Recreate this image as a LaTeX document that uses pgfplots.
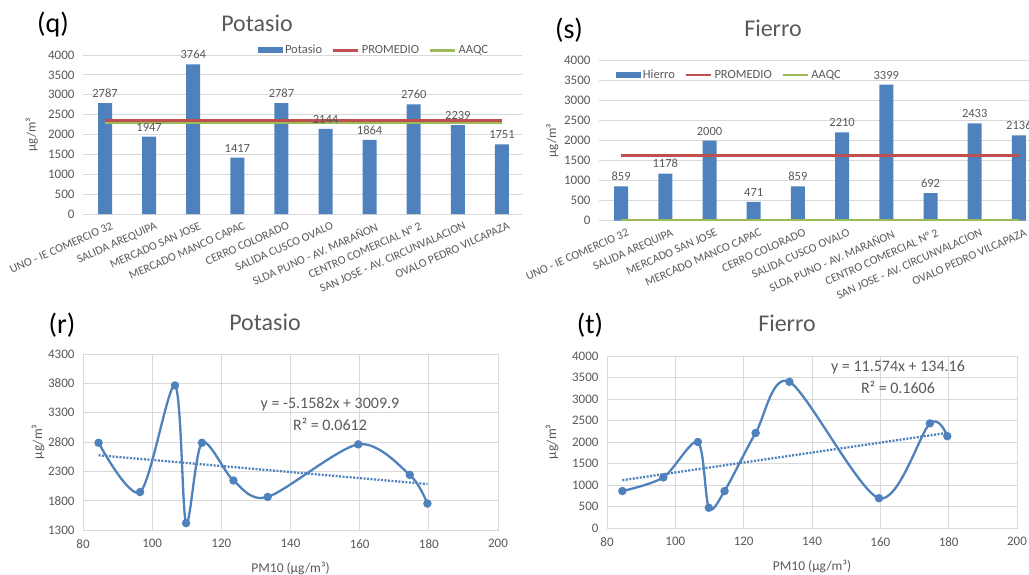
\documentclass[border=0pt]{standalone}
\usepackage{fontspec}
\setmainfont{Carlito}
\usepackage{pgfplots}
\pgfplotsset{compat=1.18}
\definecolor{cblue}{HTML}{4F81BD}
\definecolor{cred}{HTML}{C0504D}
\definecolor{cgreen}{HTML}{9BBB59}
\definecolor{ctext}{HTML}{595959}
\definecolor{cgrid}{HTML}{D9D9D9}
\newcommand{\fs}[1]{\fontsize{#1}{#1}\selectfont}

\pgfplotsset{
  common/.style={
    scale only axis,
    /pgf/number format/assume math mode=true,
    /pgf/number format/1000 sep={},
    scaled ticks=false,
    tick style={draw=none},
    ticklabel style={text=ctext},
    yticklabel style={font=\fs{13}, xshift=-5pt},
  },
  barpanel/.style={
    common,
    xmin=-0.5, xmax=9.5, ymin=0, ymax=4000,
    ytick={0,500,...,4000}, xtick={0,...,9},
    xticklabels={UNO - IE COMERCIO 32, SALIDA AREQUIPA, MERCADO SAN JOSE, MERCADO MANCO CAPAC, CERRO COLORADO, SALIDA CUSCO OVALO, SLDA PUNO - AV. MARAÑON, CENTRO COMERCIAL N° 2, SAN JOSE - AV. CIRCUNVALACION, OVALO PEDRO VILCAPAZA},
    xticklabel style={font=\fs{11.8}, rotate=24, anchor=north east, inner sep=1pt, yshift=-8pt, xshift=3pt},
    axis line style={draw=none},
    ymajorgrids, grid style={cgrid, line width=0.8pt},
    ylabel={µg/m³}, ylabel style={font=\fs{13}, text=ctext, anchor=center},
    legend style={draw=none, fill=none, font=\fs{12.5}, text=ctext, legend columns=3,
      /tikz/every even column/.append style={column sep=8pt}},
    legend image code/.code={\draw[#1] (0pt,0pt) -- (25pt,0pt);},
  },
  barplot/.style={ybar, bar width=14pt, fill=cblue, draw=none,
    nodes near coords, nodes near coords style={font=\fs{12.5}, text=ctext, yshift=2pt},
    legend image code/.code={\fill[cblue] (0pt,-3pt) rectangle (25pt,3pt);}},
  avgline/.style={line width=2.6pt},
  scatpanel/.style={
    common,
    xmin=80, xmax=200, xtick={80,100,...,200},
    xticklabel style={font=\fs{13}, yshift=-6pt},
    grid=major, grid style={cgrid, line width=0.8pt},
    axis line style={cgrid, line width=0.8pt},
    xlabel={PM10 (µg/m³)}, ylabel={µg/m³},
    label style={font=\fs{13.5}, text=ctext},
  },
  curve/.style={cblue, line width=2.3pt, smooth, tension=0.5, mark=*, mark size=3pt},
  trend/.style={cblue, line width=2.3pt, dash pattern=on 2pt off 1.5pt},
}

\begin{document}
\begin{tikzpicture}
\path[use as bounding box] (0pt,0pt) rectangle (1029pt,-574pt);

% (q) Potasio bars
\begin{scope}
\clip (0pt,0pt) rectangle (522pt,-299pt);
\begin{axis}[barpanel, at={(83pt,-214pt)}, anchor=south west, width=441pt, height=159pt,
  ylabel style={at={(axis description cs:-0.116,0.5)}},
  legend style={at={(0.66,1.03)}, anchor=center}]
\addplot[barplot] coordinates {(0,2787) (1,1947) (2,3764) (3,1417) (4,2787) (5,2144) (6,1864) (7,2760) (8,2239) (9,1751)};
\addlegendentry{Potasio}
\addplot[cred, avgline] coordinates {(0,2346) (1,2346) (2,2346) (3,2346) (4,2346) (5,2346) (6,2346) (7,2346) (8,2346) (9,2346)};
\addlegendentry{PROMEDIO}
\addplot[cgreen, avgline] coordinates {(0,2290) (1,2290) (2,2290) (3,2290) (4,2290) (5,2290) (6,2290) (7,2290) (8,2290) (9,2290)};
\addlegendentry{AAQC}
\end{axis}
\end{scope}

% (s) Fierro bars
\begin{scope}
\clip (526pt,0pt) rectangle (1029pt,-299pt);
\begin{axis}[barpanel, at={(599pt,-220.7pt)}, anchor=south west, width=442pt, height=160pt,
  ylabel style={at={(axis description cs:-0.106,0.5)}},
  legend style={at={(0.295,0.91)}, anchor=center}]
\addplot[barplot] coordinates {(0,859) (1,1178) (2,2000) (3,471) (4,859) (5,2210) (6,3399) (7,692) (8,2433) (9,2136)};
\addlegendentry{Hierro}
\addplot[cred, avgline] coordinates {(0,1624) (1,1624) (2,1624) (3,1624) (4,1624) (5,1624) (6,1624) (7,1624) (8,1624) (9,1624)};
\addlegendentry{PROMEDIO}
\addplot[cgreen, avgline] coordinates {(0,0) (1,0) (2,0) (3,0) (4,0) (5,0) (6,0) (7,0) (8,0) (9,0)};
\addlegendentry{AAQC}
\end{axis}
\end{scope}

% (r) Potasio vs PM10
\begin{axis}[scatpanel, at={(83pt,-530pt)}, anchor=south west, width=415pt, height=176pt,
  ymin=1300, ymax=4300, ytick={1300,1800,...,4300},
  xlabel style={at={(axis description cs:0.5,-0.216)}, anchor=center},
  ylabel style={at={(axis description cs:-0.108,0.5)}, anchor=center}]
\addplot[curve] coordinates {(84.5,2787) (96.5,1947) (106.6,3764) (109.8,1417) (114.4,2787) (123.5,2144) (133.4,1864) (159.6,2760) (174.5,2239) (179.6,1751)};
\addplot[trend] coordinates {(84.5,2574.0) (179.6,2083.5)};
\end{axis}

% (t) Fierro vs PM10
\begin{axis}[scatpanel, at={(607pt,-528pt)}, anchor=south west, width=410pt, height=172pt,
  ymin=0, ymax=4000, ytick={0,500,...,4000},
  xlabel style={at={(axis description cs:0.5,-0.221)}, anchor=center},
  ylabel style={at={(axis description cs:-0.134,0.5)}, anchor=center}]
\addplot[curve] coordinates {(84.5,859) (96.5,1178) (106.6,2000) (109.8,471) (114.4,859) (123.5,2210) (133.4,3399) (159.6,692) (174.5,2433) (179.6,2136)};
\addplot[trend] coordinates {(84.5,1112.2) (179.6,2212.9)};
\end{axis}

% titles and panel letters
\node[font=\fs{28}] at (53pt,-25pt) {(q)};
\node[font=\fs{24}, text=ctext] at (257pt,-23pt) {Potasio};
\node[font=\fs{28}] at (569pt,-30pt) {(s)};
\node[font=\fs{24}, text=ctext] at (773pt,-28pt) {Fierro};
\node[font=\fs{28}] at (62pt,-325pt) {(r)};
\node[font=\fs{24}, text=ctext] at (265pt,-322pt) {Potasio};
\node[font=\fs{28}] at (590pt,-325pt) {(t)};
\node[font=\fs{24}, text=ctext] at (787pt,-323pt) {Fierro};

% trendline equations
\node[font=\fs{16}, text=ctext] at (330pt,-404pt) {y = -5.1582x + 3009.9};
\node[font=\fs{16}, text=ctext] at (330pt,-424pt) {R² = 0.0612};
\node[font=\fs{16}, text=ctext] at (898pt,-367pt) {y = 11.574x + 134.16};
\node[font=\fs{16}, text=ctext] at (898pt,-387pt) {R² = 0.1606};
\end{tikzpicture}
\end{document}
